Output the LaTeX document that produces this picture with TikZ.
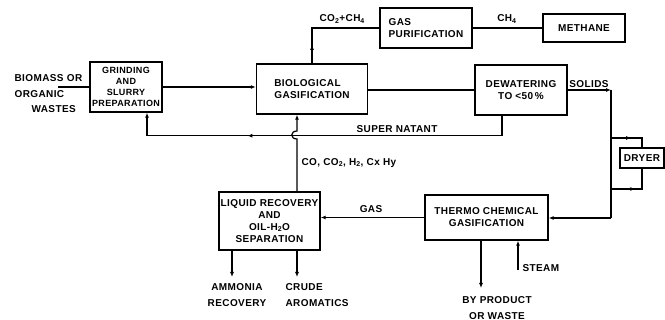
\documentclass[tikz,border=0pt]{standalone}
\usepackage{fontspec}
\setmainfont{Liberation Sans}[LetterSpace=4]
\usetikzlibrary{arrows.meta,positioning,decorations.markings}

\begin{document}
\begin{tikzpicture}[x=1pt,y=-1pt,line width=1.2pt,
    unit/.style={draw,line width=1.4pt,inner sep=1pt,align=center,
      font=\bfseries\fontsize{10}{12}\selectfont},
    lbl/.style={inner sep=1pt,font=\bfseries\fontsize{10}{15.5}\selectfont},
    flow/.style={-{Latex[length=5pt,width=4pt]}},
    midarrow/.style={postaction={decorate},decoration={markings,
      mark=at position #1 with {\arrow{Latex[length=5pt,width=4pt]}}}}]
  \useasboundingbox (0,0) rectangle (665,320);

  % process units
  \node[unit,minimum width=72,minimum height=50,font=\bfseries\fontsize{9}{11}\selectfont] (grind) at (126,87) {GRINDING\\AND\\SLURRY\\PREPARATION};
  \node[unit,minimum width=111,minimum height=50,align=left] (bio) at (312,89) {BIOLOGICAL\\GASIFICATION};
  \node[unit,minimum width=92,minimum height=40,align=left] (purif) at (426,28) {GAS\\PURIFICATION};
  \node[unit,minimum width=82,minimum height=28] (meth) at (584,28) {METHANE};
  \node[unit,minimum width=92,minimum height=50] (dewat) at (521,90) {DEWATERING\\TO <50\,\%};
  \node[unit,minimum width=44,minimum height=20] (dryer) at (642,158) {DRYER};
  \node[unit,minimum width=101,minimum height=58] (liquid) at (269.5,221) {LIQUID RECOVERY\\AND\\OIL-H\textsubscript{2}O\\SEPARATION};
  \node[unit,minimum width=123,minimum height=45] (thermo) at (486.5,217.5) {THERMO CHEMICAL\\GASIFICATION};

  % free ends and bends
  \coordinate (feed) at (58,87);
  \coordinate (s1) at (611,90);
  \coordinate (s2) at (611,218);
  \coordinate (d1) at (611,138);
  \coordinate (d2) at (611,189);
  \coordinate (byp) at (481,288);
  \coordinate (steam) at (518,270);
  \coordinate (amm) at (232,277);
  \coordinate (crude) at (297,277);
  \coordinate (hopbot) at (297,139);
  \coordinate (hoptop) at (297,131);

  % streams
  \draw (feed) -- (grind.west |- feed);
  \draw[flow] (grind.east) -- (grind.east -| bio.west);
  \draw[midarrow=0.18] (bio.north) |- (purif.west);
  \draw (purif.east) -- (meth.west);
  \draw (bio.east |- dewat.west) -- (dewat.west);
  \draw[flow,midarrow=0.69] ([xshift=-19]dewat.south) -- ++(0,20) -| ([xshift=21]grind.south);
  \draw[flow] (liquid.north -| hopbot) -- (hopbot) .. controls (290,139) and (290,131) .. (hoptop) -- (hoptop |- bio.south);
  \draw[flow] (thermo.west) -- (thermo.west -| liquid.east);
  \draw[flow] (dewat.east) -- (s1);
  \draw (s1) -- (s2);
  \draw[flow] (s2) -- (thermo.east |- s2);
  \draw[midarrow=0.5] (d1) -| (dryer.north);
  \draw[midarrow=0.7] (dryer.south) |- (d2);
  \draw[flow] (thermo.south -| byp) -- (byp);
  \draw[flow] (steam) -- (steam |- thermo.south);
  \draw[flow] (liquid.south -| amm) -- (amm);
  \draw[flow] (liquid.south -| crude) -- (crude);

  % stream labels
  \node[lbl,align=left,anchor=north west] (feedlbl) at (13,73) {BIOMASS OR\\ORGANIC\\\hspace*{17pt}WASTES};
  \node[lbl,anchor=south west] (biogas) at (318,25) {CO\textsubscript{2}+CH\textsubscript{4}};
  \node[lbl,anchor=south] (ch4) at (507,25) {CH\textsubscript{4}};
  \node[lbl,anchor=south west] (super) at (355,134) {SUPER NATANT};
  \node[lbl,anchor=south] (solids) at (589,89) {SOLIDS};
  \node[lbl,anchor=west] (syngas) at (300,163) {CO, CO\textsubscript{2}, H\textsubscript{2}, Cx Hy};
  \node[lbl] (gas) at (371,209) {GAS};
  \node[lbl,anchor=west] (steamlbl) at (521,268) {STEAM};
  \node[lbl,align=center] (waste) at (497,308) {BY PRODUCT\\OR WASTE};
  \node[lbl,align=center] (ammlbl) at (237,295) {AMMONIA\\RECOVERY};
  \node[lbl,align=left,anchor=west] (crudelbl) at (284,295) {CRUDE\\AROMATICS};
\end{tikzpicture}
\end{document}
